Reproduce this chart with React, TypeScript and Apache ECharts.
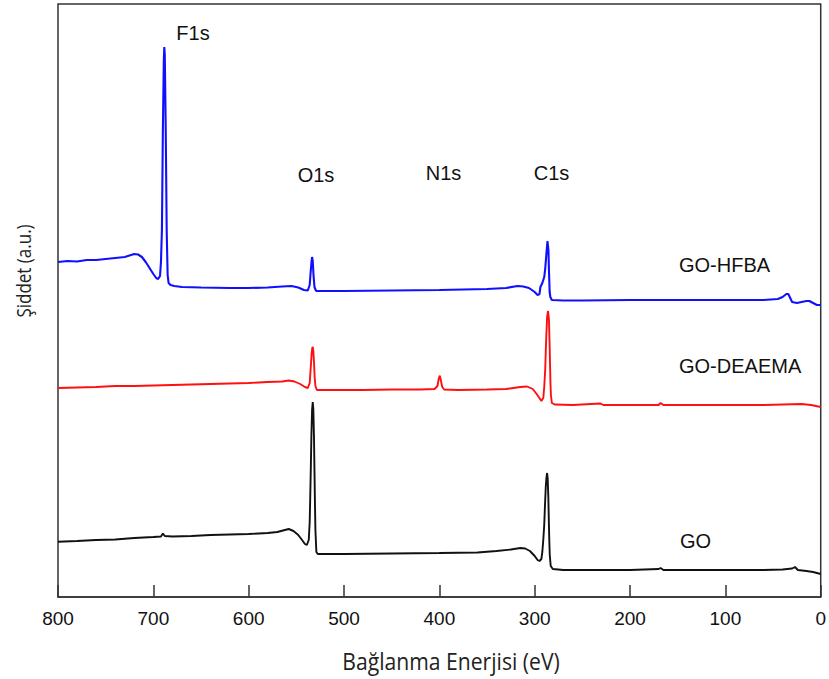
import React, { useEffect, useRef } from "react";
import * as echarts from "echarts";

// Binding energy (eV) vs intensity (a.u.)
const goHfba: [number, number][] = [
  [800, 335], [790, 336], [780, 335.5], [770, 337], [760, 337], [750, 338], [740, 339],
  [730, 340], [725, 341.5], [720, 343], [716, 342.5], [712, 340], [708, 335], [704, 329],
  [700, 323], [697, 319], [695, 318], [693, 321], [692, 335], [691, 367], [690, 467],
  [689, 537], [688.5, 550], [688, 542], [687, 467], [686, 367], [685, 322], [684, 314],
  [682, 312], [678, 311], [670, 310], [650, 309.5], [620, 309], [600, 309], [580, 309.5],
  [565, 310.5], [555, 311], [548, 309.5], [542, 307], [538, 306.5], [536, 312],
  [535, 325], [534, 336], [533.5, 340], [532.8, 336], [532, 322], [531, 310],
  [529.5, 306.5], [528.5, 306], [520, 306], [500, 306], [450, 306.5], [400, 307], [350, 308],
  [330, 309], [318, 311], [312, 310.5], [306, 309], [300, 305], [297, 302], [295, 303],
  [294, 310], [292, 314], [290, 320], [289, 328], [288, 340], [286.6, 356], [285.6, 347],
  [285, 325], [284.3, 305], [283.6, 300], [282, 297], [270, 296.5], [250, 296.5],
  [200, 297], [150, 297], [100, 297], [60, 297], [45, 298], [40, 300], [36, 303],
  [34, 303], [32, 299], [30, 295], [25, 294], [20, 295], [15, 296], [12, 296],
  [8, 294], [4, 292], [0, 292],
];

const goDeaema: [number, number][] = [
  [800, 209], [780, 209.5], [760, 210], [740, 211], [720, 211], [700, 211.5], [680, 212],
  [660, 212.5], [640, 213], [620, 213.5], [600, 214], [580, 215], [565, 215.5],
  [558, 216.5], [552, 215.5], [546, 213], [541, 210], [538, 209], [536, 214],
  [535, 228], [534, 243], [533.3, 249], [532.8, 250], [532.2, 246], [531.5, 235],
  [530.8, 220], [530, 211], [528.5, 207], [520, 207], [500, 207], [480, 207], [450, 207.5],
  [420, 207.5], [405, 208], [402, 211], [400.5, 219], [399.5, 221.3], [398.5, 217],
  [397, 210], [395, 207.5], [380, 207], [350, 207.5], [330, 208], [315, 210],
  [308, 210.5], [302, 208], [298, 203], [295, 199], [293, 196], [291, 199], [290, 210],
  [289, 227], [288, 257], [287, 280], [286, 286], [285, 277], [284.3, 250], [283.5, 215],
  [283, 202], [282, 194], [279, 192.5], [260, 192], [231, 193.5], [228, 192],
  [200, 192], [170, 192], [168, 194], [165, 192], [140, 192], [100, 192], [60, 192],
  [40, 192.5], [20, 193], [10, 192], [5, 191], [0, 190],
];

const go: [number, number][] = [
  [800, 55.3], [780, 56], [760, 57], [740, 57.5], [720, 59], [700, 60], [692, 60.5],
  [690, 63.5], [688, 61], [680, 60.5], [660, 61], [640, 62], [620, 62.5], [600, 63],
  [580, 64], [570, 65], [562, 67], [558, 68], [553, 66], [548, 62], [544, 57], [541, 53],
  [539, 52], [537, 57], [536, 75], [535.5, 97], [534.8, 130], [534.2, 162],
  [533.5, 187], [532.8, 195], [532.2, 188], [531.5, 160], [531, 127], [530.5, 95],
  [530, 67], [529, 45], [527.5, 43], [520, 43], [500, 43], [450, 43.5], [400, 44],
  [360, 44.5], [340, 46], [325, 47.5], [315, 49], [310, 48.5], [305, 46], [300, 41],
  [297, 37], [295, 36], [293, 38], [292, 45], [291, 57], [290, 72], [289.2, 92],
  [288.4, 110], [287.7, 119], [287, 124], [286.4, 119], [285.7, 100], [285.2, 77],
  [284.7, 57], [284.2, 42], [283.2, 31], [281, 28], [270, 27], [250, 27], [200, 27],
  [170, 28], [168, 29], [165, 27], [100, 27], [60, 27], [40, 27.5], [30, 28.5],
  [27, 30], [24, 27], [15, 26], [8, 25], [0, 23],
];

const xTicks = { min: 0, max: 800, interval: 100 };
const seriesNames = ["GO-HFBA", "GO-DEAEMA", "GO"];
const seriesColors = ["#1010ff", "#ff1010", "#111111"];
const peakLabels = ["F1s", "O1s", "N1s", "C1s"];

export default function App() {
  const ref = useRef<HTMLDivElement>(null);
  useEffect(() => {
    if (!ref.current) return;
    const chart = echarts.init(ref.current, undefined, { renderer: "svg" });
    const labelFont = "'Liberation Sans', Arial, sans-serif";
    const titleFont = "'Open Sans', 'Noto Sans', sans-serif";
    const peakPos = [
      [193, 33],
      [316, 175],
      [443.5, 172.5],
      [551.5, 172.5],
    ];
    const namePos = [
      [679, 264.5],
      [679, 365.5],
      [680, 540.5],
    ];
    chart.setOption({
      animation: false,
      grid: {
        left: 58,
        right: 4,
        top: 4,
        bottom: 82,
        show: true,
        borderColor: "#333",
        borderWidth: 1.5,
      },
      xAxis: {
        type: "value",
        inverse: true,
        min: xTicks.min,
        max: xTicks.max,
        interval: xTicks.interval,
        axisLine: { show: true, lineStyle: { color: "#333", width: 1.5 } },
        axisTick: { show: true, inside: true, length: 12, lineStyle: { color: "#333", width: 1.5 } },
        axisLabel: { color: "#111", fontSize: 19, fontFamily: labelFont, margin: 12 },
        splitLine: { show: false },
      },
      yAxis: {
        type: "value",
        min: 0,
        max: 593,
        axisLine: { show: false },
        axisTick: { show: false },
        axisLabel: { show: false },
        splitLine: { show: false },
      },
      series: [goHfba, goDeaema, go].map((d, i) => ({
        name: seriesNames[i],
        type: "line",
        data: d,
        showSymbol: false,
        symbol: "none",
        lineStyle: { color: seriesColors[i], width: i === 0 ? 2.1 : 1.9 },
        z: 3 - i,
      })),
      graphic: [
        ...peakLabels.map((t, i) => ({
          type: "text",
          style: {
            x: peakPos[i][0],
            y: peakPos[i][1],
            text: t,
            fontSize: 20,
            fontFamily: labelFont,
            fill: "#111",
            textAlign: "center",
            textVerticalAlign: "middle",
          },
        })),
        ...seriesNames.map((t, i) => ({
          type: "text",
          style: {
            x: namePos[i][0],
            y: namePos[i][1],
            text: t,
            fontSize: 20,
            fontFamily: labelFont,
            fill: "#111",
            textAlign: "left",
            textVerticalAlign: "middle",
          },
        })),
        {
          type: "text",
          x: 451,
          y: 661,
          scaleX: 0.92,
          style: {
            x: 0,
            y: 0,
            text: "Bağlanma Enerjisi (eV)",
            fontSize: 23,
            fontFamily: titleFont,
            fill: "#222",
            textAlign: "center",
            textVerticalAlign: "middle",
          },
        },
        {
          type: "text",
          x: 23,
          y: 271,
          rotation: Math.PI / 2,
          scaleX: 0.85,
          style: {
            x: 0,
            y: 0,
            text: "Şiddet (a.u.)",
            fontSize: 20,
            fontFamily: titleFont,
            fill: "#222",
            textAlign: "center",
            textVerticalAlign: "middle",
          },
        },
      ],
    });
    return () => chart.dispose();
  }, []);
  return <div ref={ref} style={{ width: 829, height: 679, position: "absolute", left: 0, top: 0 }} />;
}
